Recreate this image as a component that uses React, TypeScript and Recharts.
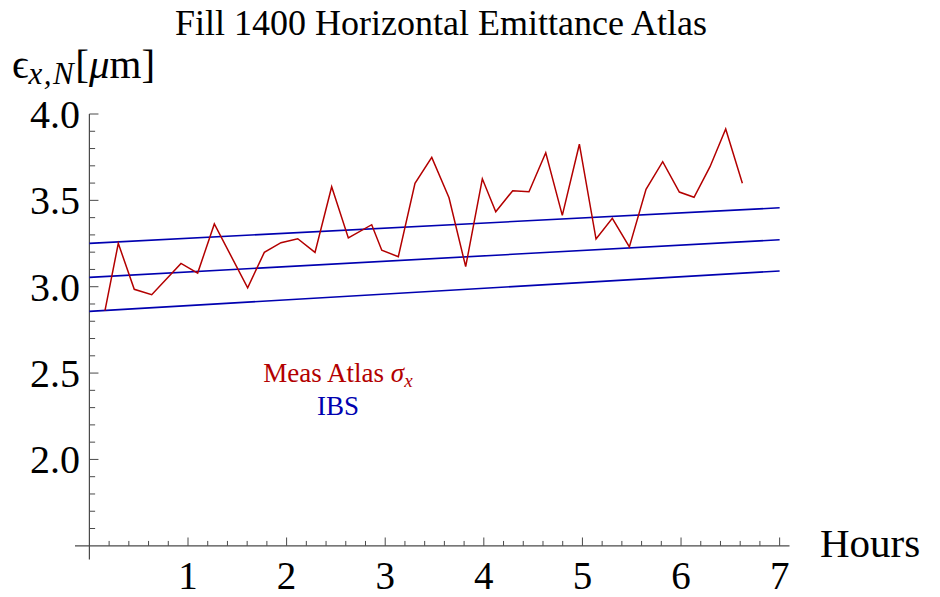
import React from "react";
import { LineChart, Line, XAxis, YAxis, ReferenceLine } from "recharts";

// ---- data ----
const measHours = [
  0.158, 0.293, 0.455, 0.632, 0.929, 1.098, 1.267, 1.605, 1.774, 1.943, 2.113, 2.288,
  2.457, 2.626, 2.863, 2.965, 3.133, 3.302, 3.472, 3.647, 3.816, 3.985, 4.121, 4.293,
  4.458, 4.628, 4.796, 4.969, 5.138, 5.303, 5.476, 5.645, 5.814, 5.983, 6.132, 6.294,
  6.453, 6.622,
];
const measAtlas = [
  2.861, 3.251, 2.985, 2.954, 3.135, 3.079, 3.363, 2.994, 3.199, 3.255, 3.278, 3.199,
  3.579, 3.282, 3.359, 3.211, 3.174, 3.599, 3.749, 3.515, 3.116, 3.625, 3.434, 3.556,
  3.55, 3.776, 3.413, 3.825, 3.276, 3.396, 3.23, 3.564, 3.724, 3.548, 3.518, 3.695,
  3.913, 3.599,
];
const ibsHours = [0, 7];
const ibsHigh = [3.251, 3.457];
const ibsMid = [3.054, 3.272];
const ibsLow = [2.857, 3.091];

const xTickLabels = [1, 2, 3, 4, 5, 6, 7];
const yTickLabels = [2.0, 2.5, 3.0, 3.5, 4.0];

// axis geometry (data units)
const X_MIN = -0.146;
const X_MAX = 7.1;
const Y_MIN = 1.42;
const Y_MAX = 4.0;
const X_AXIS_AT = 1.5;
const Y_AXIS_AT = 0;

const RED = "#b30000";
const BLUE = "#0000b0";
const AXIS = "#4a4a4a";
const FONT = "'Liberation Serif', 'Times New Roman', 'DejaVu Serif', serif";

const measData = measHours.map((h, i) => ({ h, v: measAtlas[i] }));
const ibsHighData = ibsHours.map((h, i) => ({ h, v: ibsHigh[i] }));
const ibsMidData = ibsHours.map((h, i) => ({ h, v: ibsMid[i] }));
const ibsLowData = ibsHours.map((h, i) => ({ h, v: ibsLow[i] }));

// minor / major tick positions
const xTickMarks: { x: number; major: boolean }[] = [];
for (let i = 1; i <= 35; i++) {
  const x = Math.round(i * 0.2 * 1000) / 1000;
  xTickMarks.push({ x, major: i % 5 === 0 });
}
const yTickMarks: { y: number; major: boolean }[] = [];
for (let i = 16; i <= 40; i++) {
  yTickMarks.push({ y: i / 10, major: i % 5 === 0 });
}

const renderXTick = (props: any) => {
  const { x, y, payload } = props;
  return (
    <text x={x} y={y + 29} textAnchor="middle" fontSize={39} fontFamily={FONT} fill="#000">
      {payload.value}
    </text>
  );
};

const renderYTick = (props: any) => {
  const { x, y, payload } = props;
  return (
    <text x={x + 5} y={y + 14} textAnchor="end" fontSize={40} fontFamily={FONT} fill="#000">
      {Number(payload.value).toFixed(1)}
    </text>
  );
};

export default function App() {
  return (
    <div style={{ position: "absolute", left: 0, top: 0, width: 940, height: 597, background: "#fff" }}>
      <LineChart
        width={940}
        height={597}
        margin={{ top: 114, right: 150.5, bottom: 0, left: 0 }}
      >
        <XAxis
          type="number"
          dataKey="h"
          domain={[X_MIN, X_MAX]}
          allowDataOverflow
          ticks={xTickLabels}
          axisLine={false}
          tickLine={false}
          tickSize={0}
          tickMargin={0}
          height={37.4}
          tick={renderXTick}
          interval={0}
        />
        <YAxis
          type="number"
          dataKey="v"
          domain={[Y_MIN, Y_MAX]}
          allowDataOverflow
          ticks={yTickLabels}
          axisLine={false}
          tickLine={false}
          tickSize={0}
          tickMargin={0}
          width={75}
          tick={renderYTick}
          interval={0}
        />
        {/* axes */}
        <ReferenceLine
          segment={[{ x: X_MIN, y: X_AXIS_AT }, { x: X_MAX, y: X_AXIS_AT }]}
          stroke={AXIS}
          strokeWidth={1.2}
          ifOverflow="visible"
        />
        <ReferenceLine
          segment={[{ x: Y_AXIS_AT, y: Y_MIN }, { x: Y_AXIS_AT, y: Y_MAX }]}
          stroke={AXIS}
          strokeWidth={1.2}
          ifOverflow="visible"
        />
        {xTickMarks.map((t) => (
          <ReferenceLine
            key={"xt" + t.x}
            segment={[{ x: t.x, y: X_AXIS_AT }, { x: t.x, y: X_AXIS_AT + (t.major ? 0.048 : 0.028) }]}
            stroke={AXIS}
            strokeWidth={1}
            ifOverflow="visible"
          />
        ))}
        {yTickMarks.map((t) => (
          <ReferenceLine
            key={"yt" + t.y}
            segment={[{ x: Y_AXIS_AT, y: t.y }, { x: Y_AXIS_AT + (t.major ? 0.092 : 0.058), y: t.y }]}
            stroke={AXIS}
            strokeWidth={1}
            ifOverflow="visible"
          />
        ))}
        <Line data={ibsHighData} dataKey="v" type="linear" stroke={BLUE} strokeWidth={1.6} dot={false} isAnimationActive={false} />
        <Line data={ibsMidData} dataKey="v" type="linear" stroke={BLUE} strokeWidth={1.6} dot={false} isAnimationActive={false} />
        <Line data={ibsLowData} dataKey="v" type="linear" stroke={BLUE} strokeWidth={1.6} dot={false} isAnimationActive={false} />
        <Line data={measData} dataKey="v" type="linear" stroke={RED} strokeWidth={1.5} dot={false} isAnimationActive={false} />
      </LineChart>
      <svg
        width={940}
        height={597}
        style={{ position: "absolute", left: 0, top: 0, pointerEvents: "none" }}
      >
        <text x={441} y={35} textAnchor="middle" fontSize={36} fontFamily={FONT} fill="#000">
          Fill 1400 Horizontal Emittance Atlas
        </text>
        <text x={12} y={78} fontSize={41} fontFamily={FONT} fill="#000">
          ϵ
          <tspan fontStyle="italic" fontSize={31} dy={6} letterSpacing={1.5}>x,N</tspan>
          <tspan dy={-6}>[</tspan>
          <tspan fontStyle="italic">μ</tspan>
          <tspan>m]</tspan>
        </text>
        <text x={820} y={557} fontSize={41} fontFamily={FONT} fill="#000">
          Hours
        </text>
        <text x={338} y={382} textAnchor="middle" fontSize={27} fontFamily={FONT} fill={RED}>
          Meas Atlas <tspan fontStyle="italic">σ</tspan>
          <tspan fontStyle="italic" fontSize={19} dy={5}>x</tspan>
        </text>
        <text x={338} y={415} textAnchor="middle" fontSize={27} fontFamily={FONT} fill={BLUE}>
          IBS
        </text>
      </svg>
    </div>
  );
}
